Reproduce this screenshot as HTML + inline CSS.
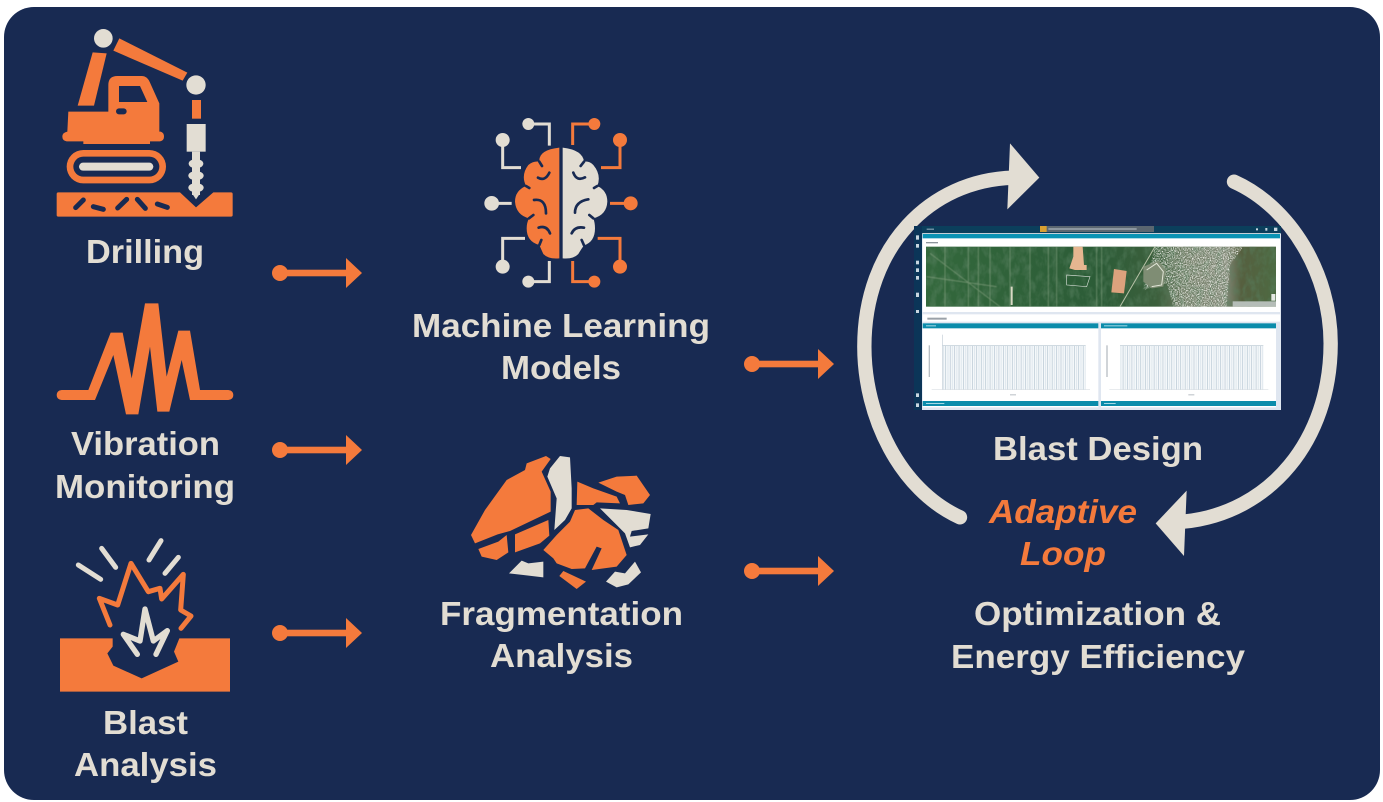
<!DOCTYPE html>
<html lang="en">
<head>
<meta charset="utf-8">
<title>Adaptive Blast Design Loop</title>
<style>
html,body{margin:0;padding:0;background:#fff}
svg{display:block}
text{font-family:"Liberation Sans",sans-serif;font-weight:700;fill:#e2ddd3;font-size:33px}
.o{fill:#f47a3c}.c{fill:#e2ddd3}.n{fill:#182a52}
.so{fill:none;stroke:#f47a3c}.sc{fill:none;stroke:#e2ddd3}.sn{fill:none;stroke:#182a52}
</style>
</head>
<body>
<svg width="1383" height="802" viewBox="0 0 1383 802" xmlns="http://www.w3.org/2000/svg">
<defs>
<pattern id="bars" width="13.3" height="10" patternUnits="userSpaceOnUse">
<rect width="13.3" height="10" fill="#f5f8fa"/>
<rect x="0" width="1.6" height="10" fill="#a3b7c7"/>
<rect x="6" width="3" height="10" fill="#dfe8ee"/>
</pattern>
<filter id="speck" x="0" y="0" width="100%" height="100%">
<feTurbulence type="fractalNoise" baseFrequency="0.28" numOctaves="2" seed="4"/>
<feColorMatrix type="matrix" values="0 0 0 0 .88  0 0 0 0 .88  0 0 0 0 .84  2 2 0 0 -1.75"/>
</filter>
<filter id="speck2" x="0" y="0" width="100%" height="100%">
<feTurbulence type="fractalNoise" baseFrequency="0.05 0.03" numOctaves="3" seed="9"/>
<feColorMatrix type="matrix" values="0 0 0 0 .1  0 0 0 0 .22  0 0 0 0 .12  2.4 0 0 0 -.95"/>
</filter>
<filter id="soft"><feGaussianBlur stdDeviation="1.2"/></filter>
<linearGradient id="mapg" x1="0" x2="1" y1="0" y2="0">
<stop offset="0" stop-color="#33683c"/><stop offset=".5" stop-color="#2c5c37"/>
<stop offset=".66" stop-color="#3c5f3c"/><stop offset=".74" stop-color="#6d7a62"/>
<stop offset=".86" stop-color="#7f8674"/><stop offset=".9" stop-color="#565f3f"/>
<stop offset="1" stop-color="#4d6a42"/>
</linearGradient>
<clipPath id="mapclip"><rect x="48" y="80" width="1050" height="180"/></clipPath>
<clipPath id="cityclip"><path d="M735 80H1000L960 135L950 260H790L770 190L700 210Z"/></clipPath>
</defs>

<rect width="1383" height="802" fill="#fff"/>
<rect x="4" y="7" width="1376" height="793" rx="30" class="n"/>

<!-- Drilling icon -->
<g transform="translate(40,20) scale(.33333)">
<circle cx="190" cy="55" r="28" class="c"/>
<circle cx="468" cy="195" r="29" class="c"/>
<polygon points="158,97 200,100 162,257 113,257" class="o"/>
<polygon points="238,55 442,158 428,182 220,92" class="o"/>
<rect x="456" y="240" width="27" height="56" class="o"/>
<path d="M85 275H205V195Q205 168 232 168H305Q322 168 330 188L358 250V335H362Q372 338 372 350Q372 362 360 364H330V372H130V364H80Q67 362 67 350Q67 338 82 335Z" class="o"/>
<path d="M237 198H300L322 246H237Z" class="n"/>
<rect x="228" y="265" width="32" height="18" rx="9" class="n"/>
<rect x="80" y="390" width="298" height="100" rx="50" class="o"/>
<rect x="100" y="410" width="258" height="60" rx="30" class="n"/>
<rect x="117" y="428" width="223" height="24" rx="12" class="c"/>
<path d="M50 522Q50 517 55 517H420L468 562L520 517H573Q578 517 578 522V585Q578 590 573 590H55Q50 590 50 585Z" class="o"/>
<g class="sn" stroke-width="15" stroke-linecap="round">
<path d="M107 563L130 540M160 560L190 568M233 564L260 538M292 538L316 565M352 552L382 562"/>
</g>
<rect x="440" y="312" width="57" height="83" class="c"/>
<g class="c">
<rect x="456" y="395" width="24" height="130"/>
<ellipse cx="468" cy="431" rx="22" ry="14"/>
<ellipse cx="468" cy="467" rx="23" ry="14"/>
<ellipse cx="468" cy="503" rx="23" ry="14"/>
<path d="M456 520H480L468 538Z"/>
</g>
</g>

<!-- Vibration icon -->
<g transform="translate(50,295) scale(.33333)">
<path d="M35 285H115L182 113H218L245 250L285 25H325L350 245L385 107H420L450 285H535Q550 287 550 300Q550 313 535 315H420L395 195L358 350H322L300 155L265 358H228L190 180L135 315H35Q20 313 20 300Q20 287 35 285Z" class="o"/>
</g>

<!-- Blast icon -->
<g transform="translate(50,535) scale(.33333)">
<polygon points="30,310 188,310 188,335 172,355 190,392 275,430 385,380 372,350 388,310 540,310 540,470 30,470" class="o"/>
<polyline points="180,270 148,190 203,210 243,85 295,170 330,160 335,192 400,118 392,225 423,243 393,280" class="so" stroke-width="15" stroke-linecap="round" stroke-linejoin="round"/>
<polyline points="262,358 220,298 270,318 285,222 310,318 352,287 318,358" class="sc" stroke-width="16" stroke-linecap="round" stroke-linejoin="round"/>
<path d="M85 90L152 133M155 40L197 97M333 17L297 75M385 67L345 115" class="sc" stroke-width="15" stroke-linecap="round"/>
</g>

<!-- Brain icon -->
<g transform="translate(460,100) scale(.33333)">
<g class="sc" stroke-width="9">
<path d="M205 72H268V137M128 120V203H183M95 310H155M128 500V415H195M205 545H268V483"/>
</g>
<g class="c">
<circle cx="205" cy="72" r="18"/><circle cx="128" cy="120" r="21"/><circle cx="95" cy="310" r="22"/><circle cx="128" cy="500" r="21"/><circle cx="205" cy="545" r="18"/>
</g>
<g class="so" stroke-width="9">
<path d="M403 72H338V135M480 120V203H423M512 310H450M480 500V415H413M403 545H338V483"/>
</g>
<g class="o">
<circle cx="403" cy="72" r="18"/><circle cx="480" cy="120" r="21"/><circle cx="512" cy="310" r="21"/><circle cx="480" cy="500" r="21"/><circle cx="403" cy="545" r="18"/>
</g>
<path d="M298 143V475Q265 478 250 462Q240 440 238 435Q200 425 200 385Q200 368 207 355Q168 345 165 305Q165 272 198 258Q182 225 205 195Q220 182 238 185Q235 150 298 143Z" class="o"/>
<path d="M308 143V475Q340 478 355 462Q365 445 372 436Q405 425 405 385Q405 368 400 355Q440 345 442 305Q442 272 412 258Q425 225 400 195Q388 182 372 185Q368 150 308 143Z" class="c"/>
<g class="sn" stroke-width="8" stroke-linecap="round">
<path d="M234 233Q255 245 268 218M222 300Q258 295 258 340M236 383Q260 375 270 400"/>
<path d="M238 185L246 198M198 258L208 264M207 355L220 345M238 435L244 420"/>
<path d="M340 218Q350 245 375 232M345 338Q345 305 385 298M335 400Q345 378 372 383"/>
<path d="M372 185L362 198M412 258L402 264M400 355L388 345M372 436L365 420"/>
</g>
</g>

<!-- Fragmentation icon -->
<g transform="translate(460,445) scale(.33333)">
<g class="o">
<polygon points="258,33 272,42 245,80 272,140 272,200 150,258 113,268 45,295 33,270 75,195 140,105 195,75 200,55"/>
<polygon points="55,312 115,290 140,270 145,322 110,345 65,335"/>
<polygon points="165,268 265,225 268,272 240,295 165,322"/>
<polygon points="352,110 400,130 470,155 480,175 410,172 400,180 350,180"/>
<polygon points="415,113 470,95 530,92 570,150 550,175 505,180 495,150 470,140"/>
<polygon points="345,195 385,190 430,225 475,255 500,330 470,365 395,375 425,310 410,305 375,370 335,372 290,355 280,340 250,315 290,270 330,230"/>
<polygon points="298,393 310,378 378,410 350,432"/>
</g>
<g class="c">
<polygon points="300,33 330,37 335,130 335,190 315,225 283,255 290,160 262,95 270,70"/>
<polygon points="420,190 500,195 572,207 565,250 515,258 510,275 565,268 540,300 510,307 495,265 470,240"/>
<polygon points="147,385 185,347 205,355 250,350 250,397 190,390"/>
<polygon points="438,410 465,380 495,385 525,350 543,382 505,418 470,427"/>
</g>
</g>

<!-- Flow arrows -->
<g class="o">
<circle cx="280" cy="273" r="8"/><rect x="280" y="269.7" width="68" height="6.6"/><polygon points="346,258 362,273 346,288"/>
<circle cx="280" cy="450" r="8"/><rect x="280" y="446.7" width="68" height="6.6"/><polygon points="346,435 362,450 346,465"/>
<circle cx="280" cy="633" r="8"/><rect x="280" y="629.7" width="68" height="6.6"/><polygon points="346,618 362,633 346,648"/>
<circle cx="752" cy="364" r="8"/><rect x="752" y="360.7" width="68" height="6.6"/><polygon points="818,349 834,364 818,379"/>
<circle cx="752" cy="571" r="8"/><rect x="752" y="567.7" width="68" height="6.6"/><polygon points="818,556 834,571 818,586"/>
</g>

<!-- Loop -->
<g transform="translate(840,130) scale(.33333)">
<path d="M360 1162C180 1080 73 860 73 650C73 350 270 150 520 143" class="sc" stroke-width="43" stroke-linecap="round"/>
<polygon points="510,40 598,143 502,238" class="c"/>
<path d="M1182 155C1350 230 1472 430 1472 640C1472 930 1290 1150 1030 1175" class="sc" stroke-width="43" stroke-linecap="round"/>
<polygon points="1040,1082 947,1180 1032,1278" class="c"/>
</g>

<!-- Dashboard screenshot -->
<g transform="translate(910,220) scale(.33333)">
<rect x="12" y="18" width="1101" height="552" fill="#dfe6f0"/>
<rect x="12" y="18" width="1101" height="22" fill="#0b3f5c"/>
<rect x="12" y="18" width="24" height="552" fill="#0b3558"/>
<rect x="390" y="18" width="342" height="18" fill="#5b6670"/>
<rect x="390" y="18" width="20" height="18" fill="#d9a031"/>
<rect x="415" y="25" width="265" height="4" fill="#a7b1b8"/>
<rect x="50" y="26" width="22" height="3" fill="#9db3c2"/>
<g fill="#c8d6e0">
<rect x="1038" y="25" width="6" height="6"/><rect x="1066" y="24" width="6" height="8"/><rect x="1092" y="23" width="10" height="10"/>
<rect x="18" y="46" width="9" height="13"/><rect x="18" y="72" width="9" height="11"/><rect x="18" y="122" width="9" height="11"/><rect x="18" y="145" width="9" height="11"/><rect x="18" y="168" width="9" height="11"/><rect x="18" y="218" width="9" height="13"/><rect x="18" y="270" width="9" height="9"/><rect x="18" y="520" width="9" height="11"/><rect x="18" y="550" width="9" height="11"/>
</g>
<rect x="38" y="40" width="1072" height="236" fill="#fff"/>
<rect x="38" y="42" width="1072" height="13" fill="#0993b4"/>
<rect x="48" y="66" width="36" height="4" fill="#8d959c"/>
<rect x="48" y="80" width="1050" height="180" fill="url(#mapg)"/>
<g clip-path="url(#mapclip)">
<rect x="48" y="80" width="1050" height="180" filter="url(#speck2)" opacity=".55"/>
<g stroke="#8fa888" stroke-width="2.5" fill="none" opacity=".7" filter="url(#soft)">
<path d="M105 80V260M175 80V260M205 80V260M240 80V260M300 80V260M360 80V260M415 80V260M440 80V260M560 80V260M575 80V260"/>
<path d="M60 100L270 260M50 170L260 200"/>
</g>
<path d="M305 200V255" stroke="#d9d9c4" stroke-width="6"/>
<rect x="680" y="80" width="420" height="180" filter="url(#speck)" clip-path="url(#cityclip)"/>
<path d="M490 80H518L522 135H530V150H495L478 145L490 110Z" fill="#e6b690"/>
<path d="M612 147L650 153L642 220L604 217Z" fill="#dca27d"/>
<path d="M630 260L735 80" stroke="#b8c2a8" stroke-width="3" fill="none"/>
<path d="M700 140L745 122L768 150L760 200L725 205L700 185Z" fill="#7f8d74"/>
<path d="M710 150L740 130L760 155L755 195L725 200" stroke="#e2e6d8" stroke-width="3" fill="none"/>
<path d="M470 165L540 170L530 200L470 195Z" fill="none" stroke="#cfd8cf" stroke-width="2"/>
<rect x="968" y="244" width="130" height="16" fill="#b5bdb8"/>
<rect x="1084" y="222" width="12" height="20" fill="#e6e9e4"/>
</g>
<rect x="38" y="283" width="1072" height="22" fill="#fff"/>
<rect x="52" y="293" width="58" height="6" fill="#9aa1a8"/>
<!-- left chart -->
<rect x="38" y="310" width="527" height="252" fill="#fff"/>
<rect x="38" y="310" width="527" height="15" fill="#0b8cab"/>
<rect x="48" y="316" width="30" height="3" fill="#a5d9e6"/>
<rect x="97" y="377" width="430" height="132" fill="url(#bars)"/>
<rect x="97" y="344" width="2" height="165" fill="#c3ced7"/>
<path d="M97 377H527" stroke="#b5c4cf" stroke-width="2"/>
<path d="M65 509H540" stroke="#d9dfe4" stroke-width="2"/>
<rect x="56" y="376" width="4" height="95" fill="#b8bec4"/>
<rect x="300" y="523" width="18" height="3" fill="#b8bec4"/>
<rect x="38" y="543" width="527" height="15" fill="#0b8cab"/>
<rect x="48" y="549" width="55" height="3" fill="#a5d9e6"/>
<!-- right chart -->
<rect x="573" y="310" width="525" height="252" fill="#fff"/>
<rect x="573" y="310" width="525" height="15" fill="#0b8cab"/>
<rect x="582" y="316" width="70" height="3" fill="#a5d9e6"/>
<rect x="630" y="377" width="430" height="132" fill="url(#bars)"/>
<path d="M630 377H1060" stroke="#b5c4cf" stroke-width="2"/>
<path d="M598 509H1075" stroke="#d9dfe4" stroke-width="2"/>
<rect x="589" y="376" width="4" height="95" fill="#b8bec4"/>
<rect x="835" y="523" width="18" height="3" fill="#b8bec4"/>
<rect x="573" y="543" width="525" height="15" fill="#0b8cab"/>
<rect x="582" y="549" width="35" height="3" fill="#a5d9e6"/>
</g>

<!-- Labels -->
<text x="86" y="263" textLength="118" lengthAdjust="spacingAndGlyphs">Drilling</text>
<text x="71" y="455" textLength="149" lengthAdjust="spacingAndGlyphs">Vibration</text>
<text x="55" y="498" textLength="180" lengthAdjust="spacingAndGlyphs">Monitoring</text>
<text x="103" y="734" textLength="85" lengthAdjust="spacingAndGlyphs">Blast</text>
<text x="74" y="776" textLength="143" lengthAdjust="spacingAndGlyphs">Analysis</text>
<text x="412" y="337" textLength="298" lengthAdjust="spacingAndGlyphs">Machine Learning</text>
<text x="501" y="379" textLength="120" lengthAdjust="spacingAndGlyphs">Models</text>
<text x="440" y="625" textLength="243" lengthAdjust="spacingAndGlyphs">Fragmentation</text>
<text x="490" y="667" textLength="143" lengthAdjust="spacingAndGlyphs">Analysis</text>
<text x="993" y="460" textLength="210" lengthAdjust="spacingAndGlyphs">Blast Design</text>
<text x="974" y="625" textLength="247" lengthAdjust="spacingAndGlyphs">Optimization &amp;</text>
<text x="951" y="668" textLength="294" lengthAdjust="spacingAndGlyphs">Energy Efficiency</text>
<text x="989" y="523" textLength="148" lengthAdjust="spacingAndGlyphs" font-style="italic" style="fill:#f47a3c">Adaptive</text>
<text x="1020" y="565" textLength="86" lengthAdjust="spacingAndGlyphs" font-style="italic" style="fill:#f47a3c">Loop</text>
</svg>
</body>
</html>
